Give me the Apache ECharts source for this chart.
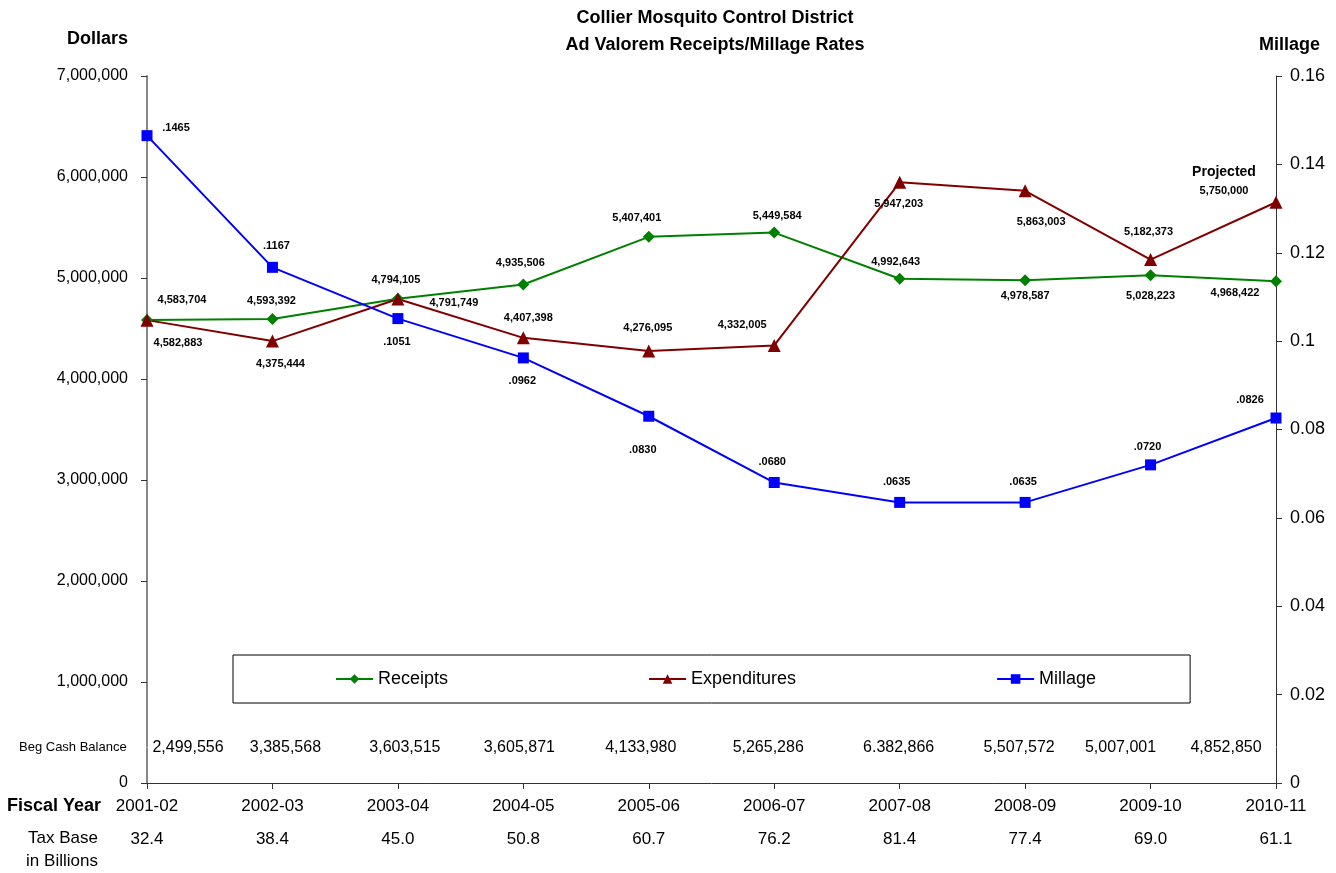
<!DOCTYPE html>
<html>
<head>
<meta charset="utf-8">
<script src="https://cdn.jsdelivr.net/npm/echarts@6/dist/echarts.min.js"></script>
<style>
  html, body { margin: 0; padding: 0; background: #fff; }
  #chart { width: 1336px; height: 873px; }
</style>
</head>
<body>
<div id="chart"></div>
<script>
// ---------- data ----------
const categories = ['2001-02', '2002-03', '2003-04', '2004-05', '2005-06', '2006-07', '2007-08', '2008-09', '2009-10', '2010-11'];
const receipts = [4583704, 4593392, 4794105, 4935506, 5407401, 5449584, 4992643, 4978587, 5028223, 4968422];
const expenditures = [4582883, 4375444, 4791749, 4407398, 4276095, 4332005, 5947203, 5863003, 5182373, 5750000];
const millage = [0.1465, 0.1167, 0.1051, 0.0962, 0.0830, 0.0680, 0.0635, 0.0635, 0.0720, 0.0826];
const begCashBalance = ['2,499,556', '3,385,568', '3,603,515', '3,605,871', '4,133,980', '5,265,286', '6.382,866', '5,507,572', '5,007,001', '4,852,850'];
const taxBase = ['32.4', '38.4', '45.0', '50.8', '60.7', '76.2', '81.4', '77.4', '69.0', '61.1'];
const projectedIndex = 9;

// ---------- label placement (style) ----------
const recOff = [[35,-20],[-1,-18],[-2,-19],[-3,-22],[-12,-19],[3,-17],[-4,-17],[0,16],[0,21],[-41,12]];
const expOff = [[31,23],[8,23],[56,4],[5,-20],[-1,-23],[-32,-20],[-1,22],[16,31],[-2,-28],[-52,-21]];
const milOff = [[29,-8],[4,-21],[-1,23],[-1,23],[-6,34],[-2,-21],[-3,-20],[-2,-20],[-3,-18],[-26,-18]];
const cashOff = [41,13,7,-4,-8,-6,-1,-6,-30,-50];
const cashRowY = 355000;

const FONT = 'Liberation Sans, Arial, Helvetica, sans-serif';
const fmtComma = v => Math.round(v).toLocaleString('en-US');
const fmtMill = v => v.toFixed(4).replace(/^0/, '');

const labelBase = {
  show: true, position: 'inside', fontFamily: FONT, fontSize: 11,
  fontWeight: 'bold', color: '#000'
};

const chart = echarts.init(document.getElementById('chart'), null, { renderer: 'canvas' });

function txt(text, x, y, size, weight, align) {
  return {
    type: 'text', x: x, y: y, silent: true,
    style: {
      text: text, fill: '#000',
      font: (weight || 'normal') + ' ' + size + 'px ' + FONT,
      textAlign: align || 'left', textVerticalAlign: 'middle',
      align: align || 'left', verticalAlign: 'middle'
    }
  };
}

const option = {
  backgroundColor: '#fff',
  animation: false,
  textStyle: { fontFamily: FONT },
  grid: { left: 147, right: 60, top: 76, bottom: 90, containLabel: false },
  legend: {
    data: ['Receipts', 'Expenditures', 'Millage'],
    left: 233, top: 655,
    orient: 'horizontal',
    itemGap: 200, itemWidth: 37, itemHeight: 12,
    padding: [15, 94, 15, 102],
    borderColor: '#000', borderWidth: 1,
    textStyle: { fontSize: 18, color: '#000', fontFamily: FONT }
  },
  graphic: [
    txt('Collier Mosquito Control District', 715, 18, 18, 'bold', 'center'),
    txt('Ad Valorem Receipts/Millage Rates', 715, 45, 18, 'bold', 'center'),
    txt('Dollars', 128, 39, 18, 'bold', 'right'),
    txt('Millage', 1259, 45, 18, 'bold', 'left'),
    txt('Beg Cash Balance', 19, 747, 13, 'normal', 'left'),
    txt('Fiscal Year', 7, 806, 18, 'bold', 'left'),
    txt('Tax Base', 63, 838, 17, 'normal', 'center'),
    txt('in Billions', 62, 861, 17, 'normal', 'center')
  ],
  xAxis: [
    {
      type: 'category', data: categories, boundaryGap: false,
      axisLine: { show: true, lineStyle: { color: '#333', width: 1 } },
      axisTick: { show: true, length: 6, lineStyle: { color: '#333' } },
      axisLabel: { interval: 0, fontSize: 17, color: '#000', margin: 15, fontFamily: FONT },
      splitLine: { show: false }
    },
    {
      type: 'category', data: taxBase, boundaryGap: false,
      position: 'bottom', offset: 40,
      axisLine: { show: false }, axisTick: { show: false },
      axisLabel: { interval: 0, fontSize: 17, color: '#000', margin: 8, fontFamily: FONT },
      splitLine: { show: false }
    }
  ],
  yAxis: [
    {
      type: 'value', min: 0, max: 7000000, interval: 1000000, position: 'left',
      axisLine: { show: true, lineStyle: { color: '#888', width: 2 } },
      axisTick: { show: true, length: 6, lineStyle: { color: '#333' } },
      axisLabel: { fontSize: 16, color: '#000', margin: 19, formatter: v => fmtComma(v), fontFamily: FONT },
      splitLine: { show: false }
    },
    {
      type: 'value', min: 0, max: 0.16, interval: 0.02, position: 'right',
      axisLine: { show: true, lineStyle: { color: '#333', width: 1 } },
      axisTick: { show: true, length: 6, lineStyle: { color: '#333' } },
      axisLabel: { fontSize: 18, color: '#000', margin: 14, fontFamily: FONT,
        formatter: v => String(parseFloat(v.toFixed(4))) },
      splitLine: { show: false }
    }
  ],
  series: [
    {
      name: 'Receipts', type: 'line', yAxisIndex: 0,
      symbol: 'diamond', symbolSize: 12,
      lineStyle: { color: '#008000', width: 2 },
      itemStyle: { color: '#008000' },
      label: Object.assign({}, labelBase, { formatter: p => fmtComma(p.value) }),
      data: receipts.map((v, i) => ({ value: v, label: { offset: recOff[i] } })),
      z: 3
    },
    {
      name: 'Expenditures', type: 'line', yAxisIndex: 0,
      symbol: 'triangle', symbolSize: 13,
      lineStyle: { color: '#800000', width: 2 },
      itemStyle: { color: '#800000' },
      label: Object.assign({}, labelBase, {
        formatter: p => p.dataIndex === projectedIndex
          ? '{p|Projected}\n{v|' + fmtComma(p.value) + '}'
          : fmtComma(p.value),
        rich: {
          p: { fontSize: 14, fontWeight: 'bold', lineHeight: 19, fontFamily: FONT, color: '#000' },
          v: { fontSize: 11, fontWeight: 'bold', lineHeight: 19, fontFamily: FONT, color: '#000' }
        }
      }),
      data: expenditures.map((v, i) => ({ value: v, label: { offset: expOff[i] } })),
      z: 3
    },
    {
      name: 'Millage', type: 'line', yAxisIndex: 1,
      symbol: 'rect', symbolSize: 11,
      lineStyle: { color: '#0000FF', width: 2 },
      itemStyle: { color: '#0000FF' },
      label: Object.assign({}, labelBase, { formatter: p => fmtMill(p.value) }),
      data: millage.map((v, i) => ({ value: v, label: { offset: milOff[i] } })),
      z: 3
    },
    {
      name: 'Beg Cash Balance', type: 'scatter', yAxisIndex: 0, silent: true,
      symbolSize: 1, itemStyle: { color: '#fff', opacity: 1 },
      label: {
        show: true, position: 'inside', fontFamily: FONT, fontSize: 16, color: '#000',
        opacity: 1, formatter: p => begCashBalance[p.dataIndex]
      },
      data: begCashBalance.map((s, i) => ({ value: [i, cashRowY], label: { offset: [cashOff[i], 0] } })),
      z: 1
    }
  ]
};

chart.setOption(option);
</script>
</body>
</html>
